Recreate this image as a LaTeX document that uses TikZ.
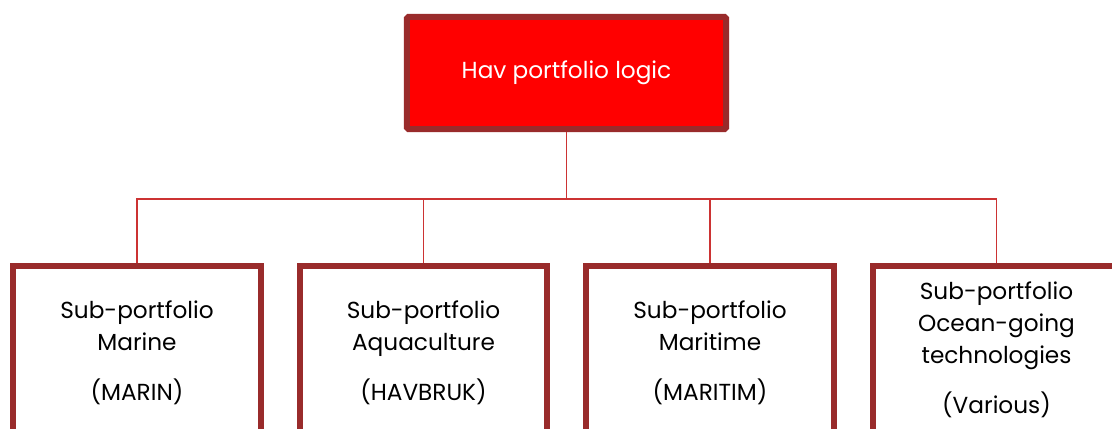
\documentclass[tikz,border=0pt]{standalone}
\usepackage{fontspec}
\setmainfont{Poppins}
\usetikzlibrary{positioning}
\definecolor{framered}{RGB}{153,43,43}
\definecolor{havred}{RGB}{255,0,0}
\definecolor{linkred}{RGB}{204,51,51}

\begin{document}
\begin{tikzpicture}[x=0.025cm, y=-0.025cm,
	headbox/.style={draw=framered, fill=havred, line width=4.25pt, rounded corners=1pt, minimum width=7.975cm, minimum height=2.8cm, text=white, font=\fontsize{16.5}{20}\selectfont},
	subbox/.style={draw=framered, line width=4.25pt, minimum width=6.175cm, minimum height=6cm, anchor=north},
	subtext/.style={align=center, anchor=base, font=\fontsize{16.5}{22.7}\selectfont},
	link/.style={draw=linkred, line width=1.4pt}]
	\clip (0,0) rectangle (1112,428);

		% Top box
		\node[headbox] (hav) at (566.5,73) {Hav portfolio logic};

		% Sub-portfolio boxes
		\node[subbox] (marin) at (137,263) {};
		\node[subbox] (havbruk) at (423.5,263) {};
		\node[subbox] (maritim) at (710,263) {};
		\node[subbox] (various) at (996.5,263) {};

		% Box texts (base = last line)
		\node[subtext] (marin_text) at (137,400) {Sub-portfolio\\Marine\\[12.7pt](MARIN)};
		\node[subtext] (havbruk_text) at (423.5,400) {Sub-portfolio\\Aquaculture\\[12.7pt](HAVBRUK)};
		\node[subtext] (maritim_text) at (710,400) {Sub-portfolio\\Maritime\\[12.7pt](MARITIM)};
		\node[subtext] (various_text) at (996.5,413) {Sub-portfolio\\Ocean-going\\technologies\\[12.7pt](Various)};

		% Connectors
		\draw[link] (hav.south) -- ++(0,67) -| (marin.north);
		\draw[link] (hav.south) -- ++(0,67) -| (havbruk.north);
		\draw[link] (hav.south) -- ++(0,67) -| (maritim.north);
		\draw[link] (hav.south) -- ++(0,67) -| (various.north);
\end{tikzpicture}
\end{document}
